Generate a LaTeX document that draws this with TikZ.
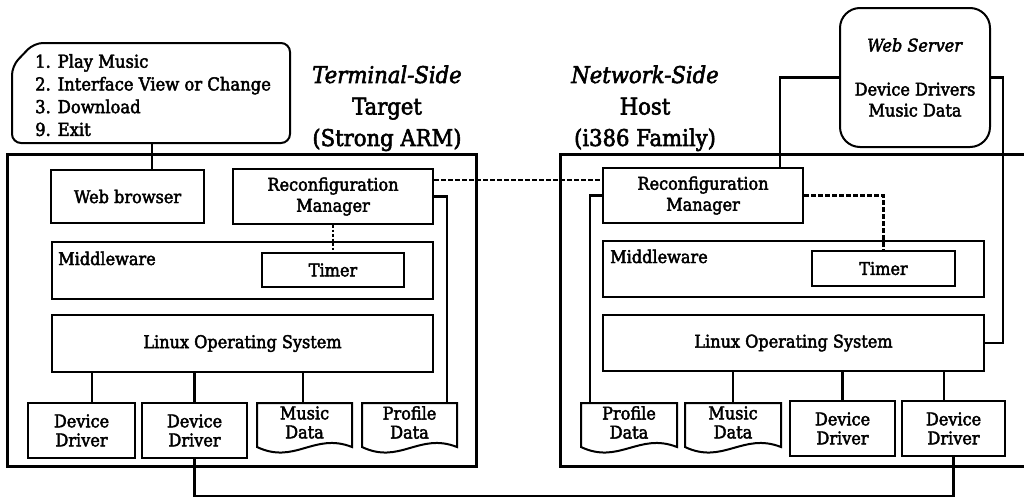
\documentclass[tikz,border=0pt]{standalone}
\usepackage{fontspec}
\setmainfont{DejaVu Serif}[FakeBold=2.5, FakeStretch=0.92]
\usetikzlibrary{calc}
\begin{document}
\begin{tikzpicture}[x=1pt,y=-1pt,
  txt/.style={font=\fontsize{17.5}{19}\selectfont},
  blk/.style={draw, line width=2pt, inner sep=0pt, align=center, txt},
  emptybox/.style={inner sep=0pt},
  outerbox/.style={draw, line width=3pt, inner sep=0pt},
  wire/.style={line width=2.2pt},
  dashwire/.style={line width=2.2pt, dash pattern=on 4.5pt off 2.5pt},
  dotwire/.style={line width=2.6pt, dash pattern=on 2.5pt off 2pt},
  doc/.style={draw, line width=2pt},
  title/.style={align=center, font=\fontsize{23}{31.5}\selectfont, inner sep=0pt}
]
\useasboundingbox (0,0) rectangle (1024,498);
\clip (0,0) rectangle (1024,498);
\fill[white] (0,0) rectangle (1024,498);

% outer boxes
\node[outerbox, minimum width=469pt, minimum height=312pt] (tgt) at (241.5,310) {};
\node[outerbox, minimum width=480pt, minimum height=312pt] (hst) at (800,310) {};

% menu
\draw[line width=2pt, rounded corners=9pt] (12,66) -- (34,43) -- (290,43) -- (290,143) -- (12,143) -- cycle;
\node[anchor=north west, align=left, inner sep=0pt, font=\fontsize{17.8}{22.7}\selectfont] (menu) at (35,54)
  {1. Play Music\\2. Interface View or Change\\3. Download\\9. Exit};
\coordinate (menubot) at (152,143);

% titles
\node[title] (ttl1) at (387,108.3) {\textit{Terminal-Side}\\Target\\(Strong ARM)};
\node[title] (ttl2) at (645,108.3) {\textit{Network-Side}\\Host\\(i386 Family)};

% web server
\node[draw, line width=2pt, rounded corners=20pt, minimum width=150pt, minimum height=139pt,
  align=center, inner sep=0pt, font=\fontsize{17.5}{21}\selectfont] (ws) at (915,77.5)
  {\textit{Web Server}\\[23pt]Device Drivers\\Music Data};

% terminal side
\node[blk, minimum width=153pt, minimum height=53pt] (wb) at (127.5,196.5) {Web browser};
\node[blk, minimum width=200pt, minimum height=55pt, font=\fontsize{17.5}{21}\selectfont] (rm1) at (333,196.5) {Reconfiguration\\Manager};
\node[blk, minimum width=381pt, minimum height=57pt] (mw1) at (242.5,270.5) {};
\node[anchor=base west, txt, inner sep=0pt] (mwt1) at (58,265) {Middleware};
\node[blk, minimum width=142pt, minimum height=34pt] (tm1) at (333,270) {Timer};
\node[blk, minimum width=381pt, minimum height=57pt] (lx1) at (242.5,343.5) {Linux Operating System};
\node[blk, minimum width=107pt, minimum height=55pt] (dd1) at (81.5,430.5) {Device\\Driver};
\node[blk, minimum width=105pt, minimum height=55pt] (dd2) at (194.5,430.5) {Device\\Driver};
\node[emptybox, minimum width=95pt, minimum height=45pt] (md1) at (304.5,425.5) {};
\draw[doc] (257,403) -- (352,403) -- (352,447) .. controls (314,432) and (295,465) .. (257,447) -- cycle;
\node[txt, align=center, inner sep=0pt] (md1t) at ([yshift=3pt]md1.center) {Music\\Data};
\node[emptybox, minimum width=95pt, minimum height=45pt] (pd1) at (409.5,425.5) {};
\draw[doc] (362,403) -- (457,403) -- (457,447) .. controls (419,432) and (400,465) .. (362,447) -- cycle;
\node[txt, align=center, inner sep=0pt] (pd1t) at ([yshift=3pt]pd1.center) {Profile\\Data};

% network side
\node[blk, minimum width=200pt, minimum height=55pt, font=\fontsize{17.5}{21}\selectfont] (rm2) at (703,195.5) {Reconfiguration\\Manager};
\node[blk, minimum width=381pt, minimum height=56pt] (mw2) at (793.5,269) {};
\node[anchor=base west, txt, inner sep=0pt] (mwt2) at (610,263) {Middleware};
\node[blk, minimum width=143pt, minimum height=35pt] (tm2) at (883.5,268.5) {Timer};
\node[blk, minimum width=381pt, minimum height=56pt] (lx2) at (793.5,343) {Linux Operating System};
\node[emptybox, minimum width=96pt, minimum height=45pt] (pd2) at (629,425.5) {};
\draw[doc] (581,403) -- (677,403) -- (677,447) .. controls (639,432) and (619,465) .. (581,447) -- cycle;
\node[txt, align=center, inner sep=0pt] (pd2t) at ([yshift=3pt]pd2.center) {Profile\\Data};
\node[emptybox, minimum width=96pt, minimum height=45pt] (md2) at (733,425.5) {};
\draw[doc] (685,403) -- (781,403) -- (781,447) .. controls (743,432) and (723,465) .. (685,447) -- cycle;
\node[txt, align=center, inner sep=0pt] (md2t) at ([yshift=3pt]md2.center) {Music\\Data};
\node[blk, minimum width=105pt, minimum height=55pt] (dh1) at (842.5,428.5) {Device\\Driver};
\node[blk, minimum width=103pt, minimum height=55pt] (dh2) at (953.5,428.5) {Device\\Driver};

% connectors
\draw[wire] (menubot) -- (menubot |- wb.north);
\coordinate (dsh1) at ([yshift=16.5pt]rm1.east);
\draw[dashwire] (dsh1) -- (dsh1 -| rm2.west);
\coordinate (pd1c) at ([xshift=37.5pt]pd1.north);
\draw[wire] (rm1.east) -| (pd1c);
\draw[dotwire] (rm1.south) -- (tm1.north);
\coordinate (pd2c) at ([xshift=-39pt]pd2.north);
\draw[wire] (rm2.west) -| (pd2c);
\draw[dashwire] (rm2.east) -| (tm2.north);
\coordinate (rm2c) at ([xshift=77pt]rm2.north);
\draw[wire] (ws.west) -| (rm2c);
\draw[wire] (ws.east) -- ++(12,0) |- (lx2.east);

\coordinate (dd1c) at ([xshift=10.5pt]dd1.north);
\draw[wire] (dd1c) -- (dd1c |- lx1.south);
\draw[wire] (dd2.north) -- (dd2.north |- lx1.south);
\coordinate (md1c) at ([xshift=-1.5pt]md1.north);
\draw[wire] (md1c) -- (md1c |- lx1.south);
\draw[wire] (md2.north) -- (md2.north |- lx2.south);
\draw[wire] (dh1.north) -- (dh1.north |- lx2.south);
\coordinate (dh2c) at ([xshift=-9.5pt]dh2.north);
\draw[wire] (dh2c) -- (dh2c |- lx2.south);
\draw[wire] (dd2.south) -- ++(0,37) -| (dh2.south);
\end{tikzpicture}
\end{document}
